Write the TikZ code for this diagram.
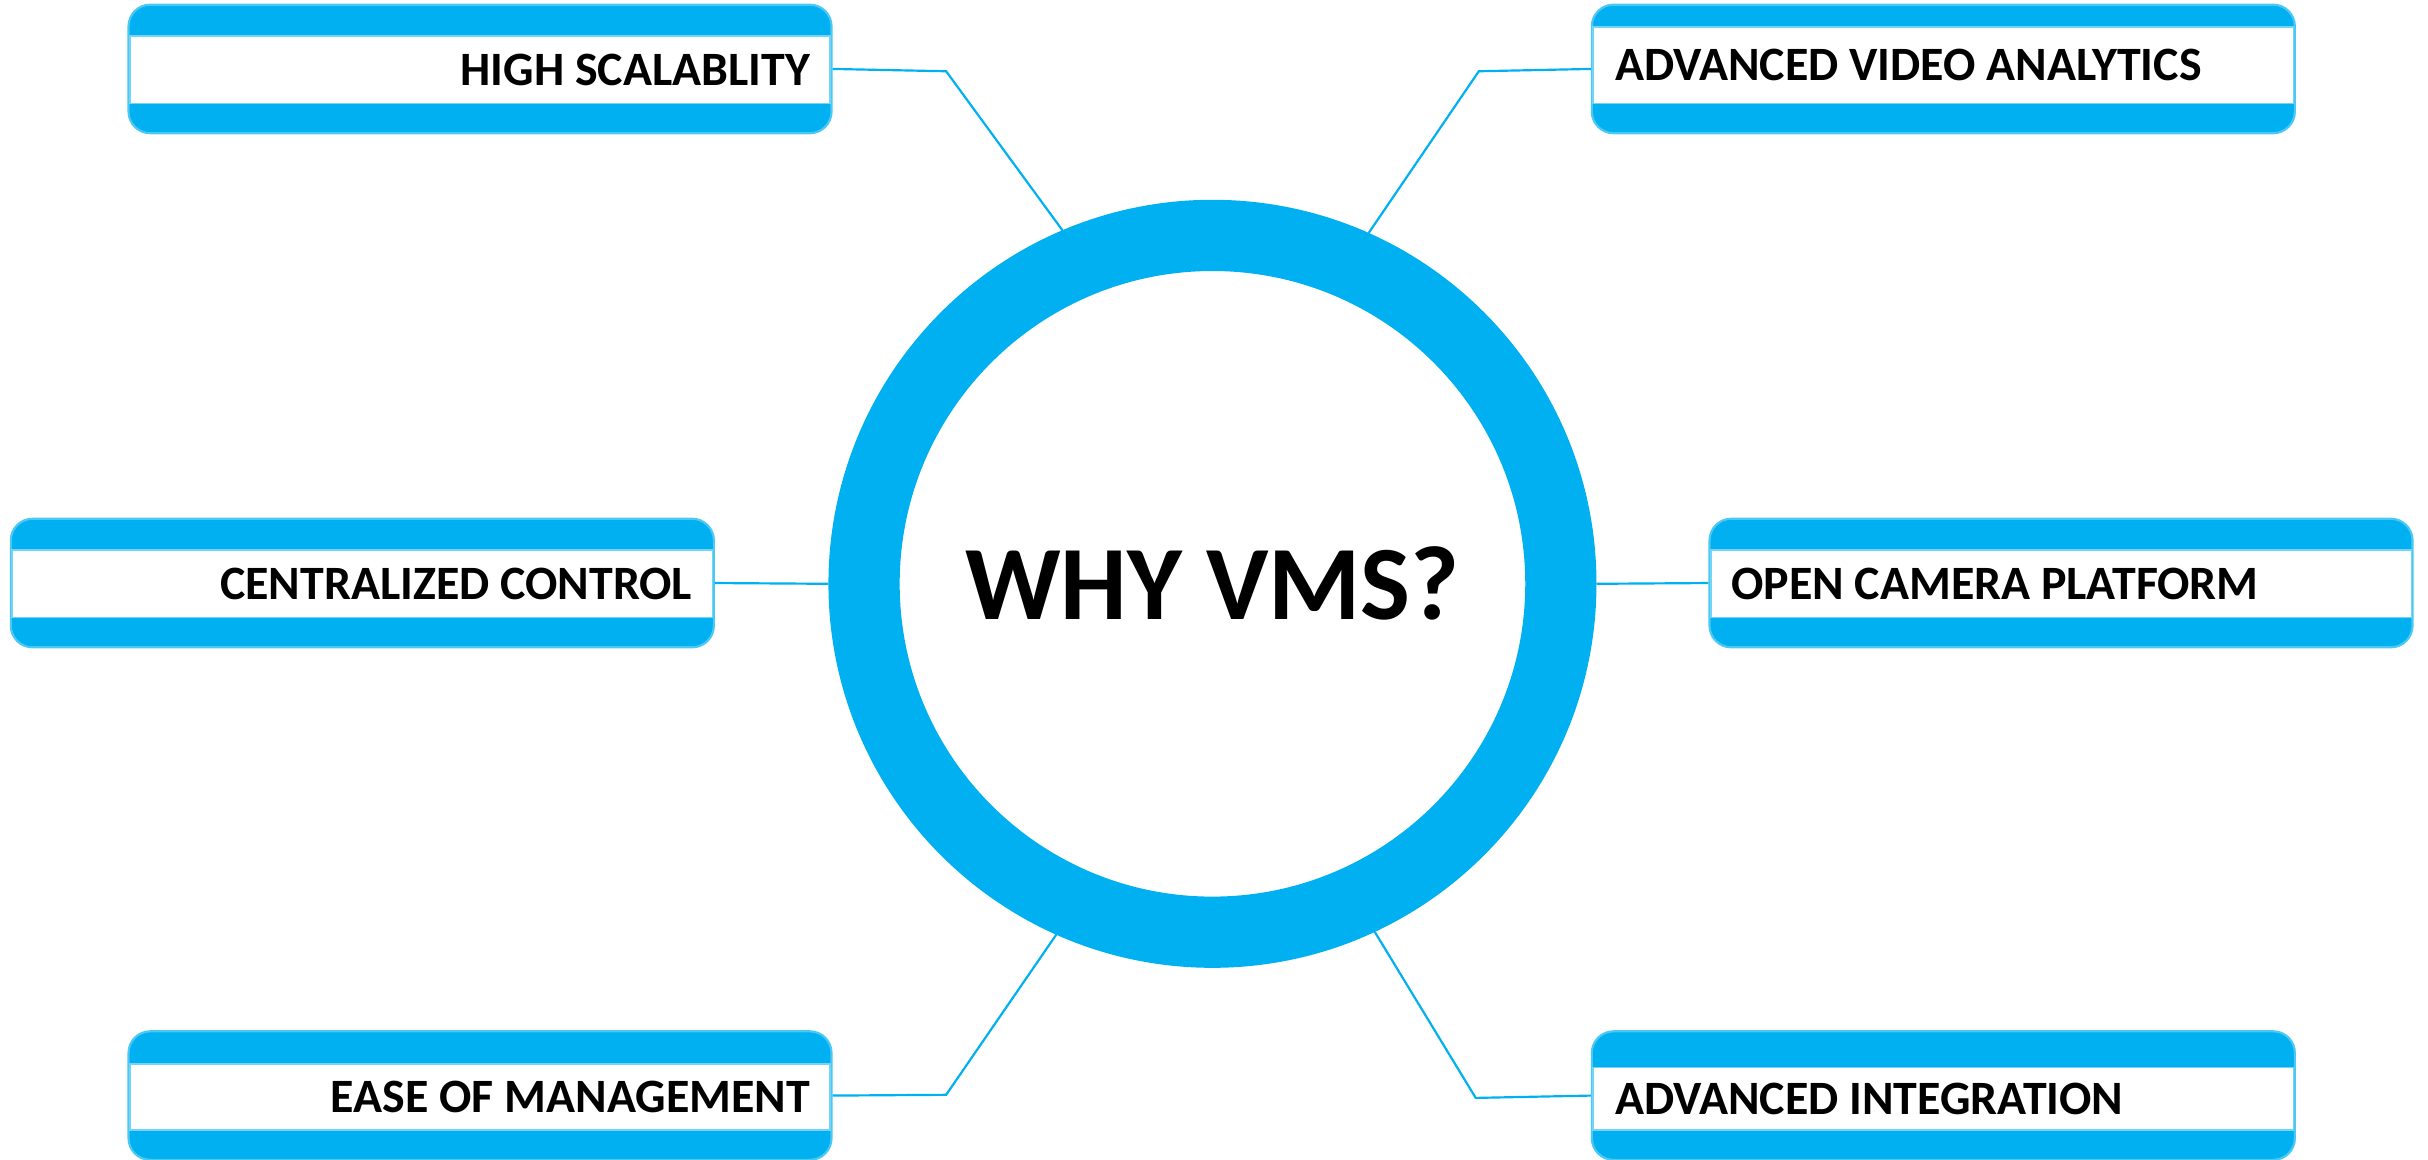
\documentclass[tikz,border=0pt]{standalone}
\usepackage{fontspec}
\setmainfont{Carlito}
\usepackage{tikz}
\usetikzlibrary{calc, positioning}
\definecolor{vmsblue}{HTML}{00B0F0}
\newcommand{\featureBox}[6]{
%    \featureBox{name}{centre}{stripe top}{text anchor}{text shift}{text}
	\node[featbox] (#1) at (#2) {};
	\coordinate (#1-a) at ($(#1.north west)+(0.015,-#3)$);
	\coordinate (#1-b) at ($(#1.south east)+(-0.015,0.20)$);
	\fill[white, draw=vmsblue!55, line width=0.3pt] (#1-a) rectangle (#1-b);
	\path (#1-a) -- (#1-b) coordinate[midway] (#1-m);
	\node[feattext, anchor=#4, xshift=#5] (#1-t) at (#1-m -| #1.#4) {#6};
}

\begin{document}
\begin{tikzpicture}[
		featbox/.style = {fill=vmsblue, draw=vmsblue!70, line width=0.4pt,
					rounded corners=0.14cm,
					minimum width=4.54cm, minimum height=0.83cm,
					inner sep=0pt},
		feattext/.style = {inner sep=0pt, font=\fontsize{8.8}{10}\selectfont\bfseries},
		link/.style = {draw=vmsblue, line width=0.4pt}
                   ]

%Fix picture size
	\useasboundingbox (0,0) rectangle (15.68,-7.49);

%Define ring size
	\pgfmathsetmacro{\ringwidth}{0.46}
	\pgfmathsetmacro{\ringsize}{4.50}

%Draw ring
	\node[circle, draw=vmsblue, line width=\ringwidth cm, minimum size=\ringsize cm,
		inner sep=0pt, font=\fontsize{19.4}{23}\selectfont\bfseries] (hub) at (7.83,-3.77) {WHY VMS?};

%Boxes
	\featureBox{scal}{3.10,-0.445}{0.21cm}{east}{-0.14cm}{HIGH SCALABLITY}
	\featureBox{video}{12.55,-0.445}{0.15cm}{west}{0.15cm}{ADVANCED VIDEO ANALYTICS}
	\featureBox{ctrl}{2.34,-3.765}{0.21cm}{east}{-0.14cm}{CENTRALIZED CONTROL}
	\featureBox{cam}{13.31,-3.765}{0.21cm}{west}{0.14cm}{OPEN CAMERA PLATFORM}
	\featureBox{mgmt}{3.10,-7.075}{0.22cm}{east}{-0.14cm}{EASE OF MANAGEMENT}
	\featureBox{integ}{12.55,-7.075}{0.24cm}{west}{0.15cm}{ADVANCED INTEGRATION}

%Bend points
	\coordinate (k1) at (6.11,-0.46);
	\coordinate (k2) at (9.55,-0.46);
	\coordinate (k3) at (6.11,-7.07);
	\coordinate (k4) at (9.53,-7.09);

%Connectors
	\draw[link] (scal.east) -- (k1) -- (hub.113.7);
	\draw[link] (video.west) -- (k2) -- (hub.66.6);
	\draw[link] (ctrl.east) -- (hub.west);
	\draw[link] (cam.west) -- (hub.east);
	\draw[link] (mgmt.east) -- (k3) -- (hub.246.8);
	\draw[link] (integ.west) -- (k4) -- (hub.295.3);

\end{tikzpicture}
\end{document}
